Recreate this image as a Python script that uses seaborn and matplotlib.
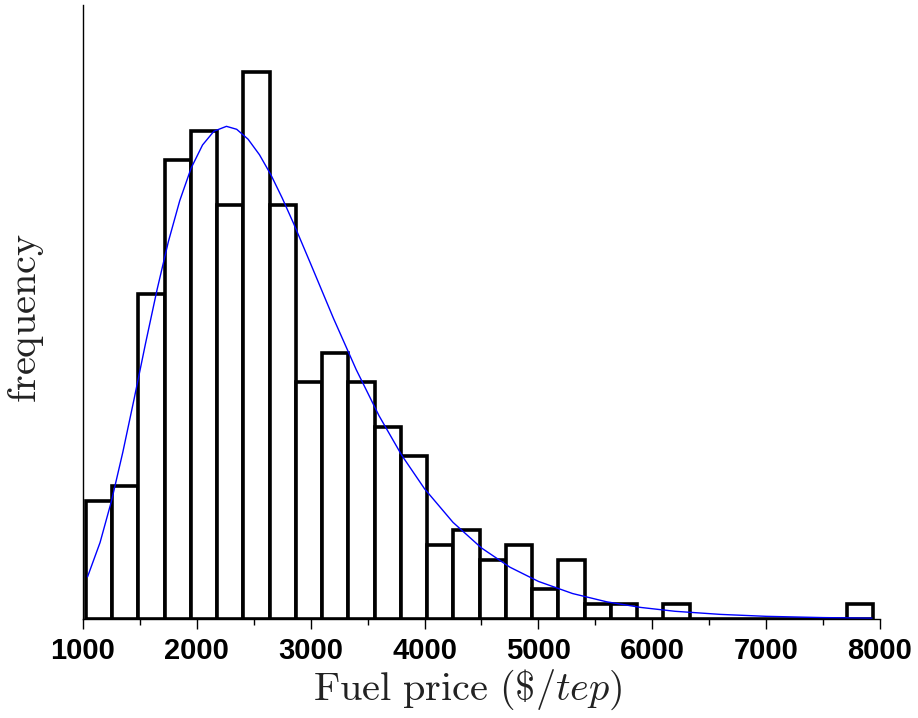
import matplotlib
matplotlib.use("Agg")
import matplotlib.pyplot as plt
import seaborn as sns
import numpy as np

# ----------------------------
# Data
# ----------------------------
bin_edges = [1026, 1256, 1487, 1717, 1948, 2178, 2409, 2639, 2870, 3100,
             3331, 3561, 3792, 4022, 4253, 4483, 4714, 4944, 5175, 5405,
             5636, 5866, 6097, 6327, 6558, 6788, 7019, 7249, 7480, 7710, 7941]
counts = [8, 9, 22, 31, 33, 28, 37, 28, 16, 18,
          16, 13, 11, 5, 6, 4, 5, 2, 4, 1,
          1, 0, 1, 0, 0, 0, 0, 0, 0, 1]

# fitted curve (blue)
curve_x = [1040, 1150, 1250, 1350, 1450, 1550, 1650, 1750, 1850, 1950,
           2050, 2150, 2260, 2350, 2450, 2550, 2650, 2750, 2850, 3000,
           3200, 3400, 3600, 3800, 4000, 4250, 4500, 4750, 5000, 5300,
           5600, 5900, 6200, 6600, 7000, 7500, 7930]
curve_y = [2.85, 5.17, 7.97, 11.28, 14.91, 18.65, 22.24, 25.51, 28.28, 30.48,
           32.04, 32.97, 33.3, 33.10, 32.43, 31.38, 30.03, 28.45, 26.73, 24.0,
           20.32, 16.85, 13.74, 11.06, 8.80, 6.53, 4.80, 3.50, 2.54, 1.72,
           1.16, 0.78, 0.52, 0.31, 0.18, 0.094, 0.054]

major_ticks = [1000, 2000, 3000, 4000, 5000, 6000, 7000, 8000]
minor_ticks = [1500, 2500, 3500, 4500, 5500, 6500, 7500]

# ----------------------------
# Plot
# ----------------------------
sns.set_style("white")
plt.rcParams["mathtext.fontset"] = "cm"

fig = plt.figure(figsize=(9.18, 7.18), dpi=100)
ax = fig.add_axes([0.0904, 0.1379, 0.8682, 0.8551])

centers = [(a + b) / 2 for a, b in zip(bin_edges[:-1], bin_edges[1:])]
sns.histplot(x=centers, weights=counts, bins=bin_edges, ax=ax,
             color="white", edgecolor="black", linewidth=2.6, alpha=1)
sns.lineplot(x=curve_x, y=curve_y, ax=ax, color="blue", linewidth=1.0)

ax.set_xlim(1000, 8000)
ax.set_ylim(0, 41.5)
ax.set_xticks(major_ticks)
ax.set_xticks(minor_ticks, minor=True)
ax.set_yticks([])
ax.tick_params(axis="x", which="major", direction="out", length=7, width=1,
               bottom=True, pad=6, colors="black")
ax.tick_params(axis="x", which="minor", direction="out", length=4, width=1,
               bottom=True, colors="black")
for lab in ax.get_xticklabels():
    lab.set_fontfamily("Liberation Sans")
    lab.set_fontweight("bold")
    lab.set_fontsize(21)
    lab.set_color("black")

for side in ["top", "right"]:
    ax.spines[side].set_visible(False)
for side in ["left", "bottom"]:
    ax.spines[side].set_color("black")
    ax.spines[side].set_linewidth(1.0)

ax.set_xlabel(r"$\mathrm{Fuel\ price}\ (\$/tep)$", fontsize=29, color="#222222")
ax.set_ylabel(r"$\mathrm{frequency}$", fontsize=29, color="#222222")
ax.xaxis.set_label_coords(0.483, -0.08)
ax.yaxis.set_label_coords(-0.046, 0.49)

fig.savefig("out.png", dpi=100, facecolor="white")
